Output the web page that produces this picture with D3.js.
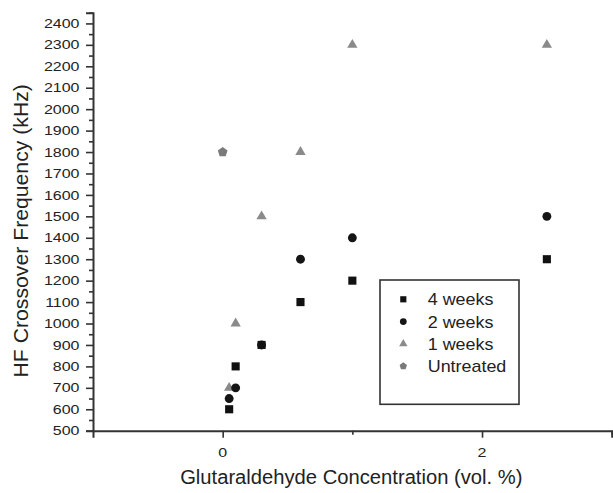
<!DOCTYPE html>
<html><head><meta charset="utf-8">
<script src="https://cdn.jsdelivr.net/npm/d3@7"></script>
<style>body{margin:0;background:#fff}svg{display:block}text{font-family:"Liberation Sans",Arial,sans-serif;fill:#222}</style>
</head><body><div id="c"></div>
<script>
// ---- data ----
const seriesNames = ["4 weeks", "2 weeks", "1 weeks", "Untreated"];
const weeks4X = [0.05, 0.1, 0.3, 0.6, 1.0, 2.5];
const weeks4Y = [600, 800, 900, 1100, 1200, 1300];
const weeks2X = [0.05, 0.1, 0.3, 0.6, 1.0, 2.5];
const weeks2Y = [650, 700, 900, 1300, 1400, 1500];
const weeks1X = [0.05, 0.1, 0.3, 0.6, 1.0, 2.5];
const weeks1Y = [700, 1000, 1500, 1800, 2300, 2300];
const untreatedX = [0];
const untreatedY = [1800];
const yTickValues = d3.range(500, 2401, 100);
const xTickValues = [0, 2];
const xLabel = "Glutaraldehyde Concentration (vol. %)";
const yLabel = "HF Crossover Frequency (kHz)";

const W = 613, H = 493;
const svg = d3.select("#c").append("svg").attr("width", W).attr("height", H);

const x = d3.scaleLinear().domain([-1, 3]).range([93, 611.7]);
const y = d3.scaleLinear().domain([500, 2450]).range([430.7, 12.7]);

const axisColor = "#333";

// pentagon symbol
const pentagon = {
  draw(ctx, size) {
    const r = Math.sqrt(size / (2.5 * Math.sin(2 * Math.PI / 5)));
    for (let i = 0; i < 5; i++) {
      const a = -Math.PI / 2 + i * 2 * Math.PI / 5;
      const px = r * Math.cos(a), py = r * Math.sin(a);
      if (i === 0) ctx.moveTo(px, py); else ctx.lineTo(px, py);
    }
    ctx.closePath();
  }
};

const styles = {
  "4 weeks": {type: d3.symbolSquare, size: 66, lsize: 38, fill: "#111"},
  "2 weeks": {type: d3.symbolCircle, size: 62, lsize: 36, fill: "#151515"},
  "1 weeks": {type: d3.symbolTriangle, size: 46, lsize: 30, fill: "#8a8a8a"},
  "Untreated": {type: pentagon, size: 62, lsize: 36, fill: "#7a7a7a"}
};

const series = [
  {name: "Untreated", xs: untreatedX, ys: untreatedY},
  {name: "1 weeks", xs: weeks1X, ys: weeks1Y},
  {name: "2 weeks", xs: weeks2X, ys: weeks2Y},
  {name: "4 weeks", xs: weeks4X, ys: weeks4Y}
];

// ---- axes ----
const yMinor = d3.range(550, 2451, 100);
const gy = svg.append("g").attr("transform", `translate(${x(-1)},0)`);
gy.call(d3.axisLeft(y).tickValues(yTickValues).tickSize(7).tickFormat(""));
gy.append("g").call(d3.axisLeft(y).tickValues(yMinor).tickSize(4).tickFormat(""));
gy.selectAll(".domain").attr("stroke", axisColor).attr("stroke-width", 2);
gy.selectAll("g > g > .domain").remove();
gy.selectAll("line").attr("stroke", axisColor).attr("stroke-width", 1.6);

const gx = svg.append("g").attr("transform", `translate(0,${y(500)})`);
gx.call(d3.axisBottom(x).tickValues(xTickValues).tickSize(7).tickFormat(""));
gx.append("g").call(d3.axisBottom(x).tickValues([1, 3]).tickSize(4).tickFormat(""));
gx.selectAll(".domain").attr("stroke", axisColor).attr("stroke-width", 2);
gx.selectAll("g > g > .domain").remove();
gx.selectAll("line").attr("stroke", axisColor).attr("stroke-width", 1.6);

function stretchedText(parent, tx, ty, txt, size, sx, anchor, rot) {
  const g = parent.append("g").attr("transform", `translate(${tx},${ty})` + (rot ? ` rotate(${rot})` : ""));
  g.append("text").attr("transform", `scale(${sx},1)`)
    .attr("text-anchor", anchor).attr("font-size", size).text(txt);
  return g;
}

yTickValues.forEach(v => stretchedText(svg, 79.5, y(v) + 4.6, String(v), 12.8, 1.25, "end"));
xTickValues.forEach(v => stretchedText(svg, x(v), 456.5, String(v), 12.8, 1.25, "middle"));

stretchedText(svg, (179.3 + 523.3) / 2, 484, xLabel, 20, 1.01, "middle");
stretchedText(svg, 28, 230.8, yLabel, 20.2, 1.05, "middle", -90);

// ---- points ----
series.forEach(s => {
  const st = styles[s.name];
  const sym = d3.symbol().type(st.type).size(st.size);
  svg.append("g").selectAll("path").data(s.xs.map((v, i) => [v, s.ys[i]]))
    .join("path")
    .attr("transform", d => `translate(${x(d[0])},${y(d[1])})`)
    .attr("d", sym).attr("fill", st.fill);
});

// ---- legend ----
const lg = svg.append("g");
lg.append("rect").attr("x", 380).attr("y", 280).attr("width", 139).attr("height", 124.3)
  .attr("fill", "#fff").attr("stroke", axisColor).attr("stroke-width", 1.6);
seriesNames.forEach((n, i) => {
  const cy = 299.3 + i * 22.3;
  const st = styles[n];
  lg.append("path").attr("transform", `translate(403.3,${cy})`)
    .attr("d", d3.symbol().type(st.type).size(st.lsize)).attr("fill", st.fill);
  stretchedText(lg, 427.7, cy + 6, n, 16, 1.12, "start");
});
</script></body></html>
